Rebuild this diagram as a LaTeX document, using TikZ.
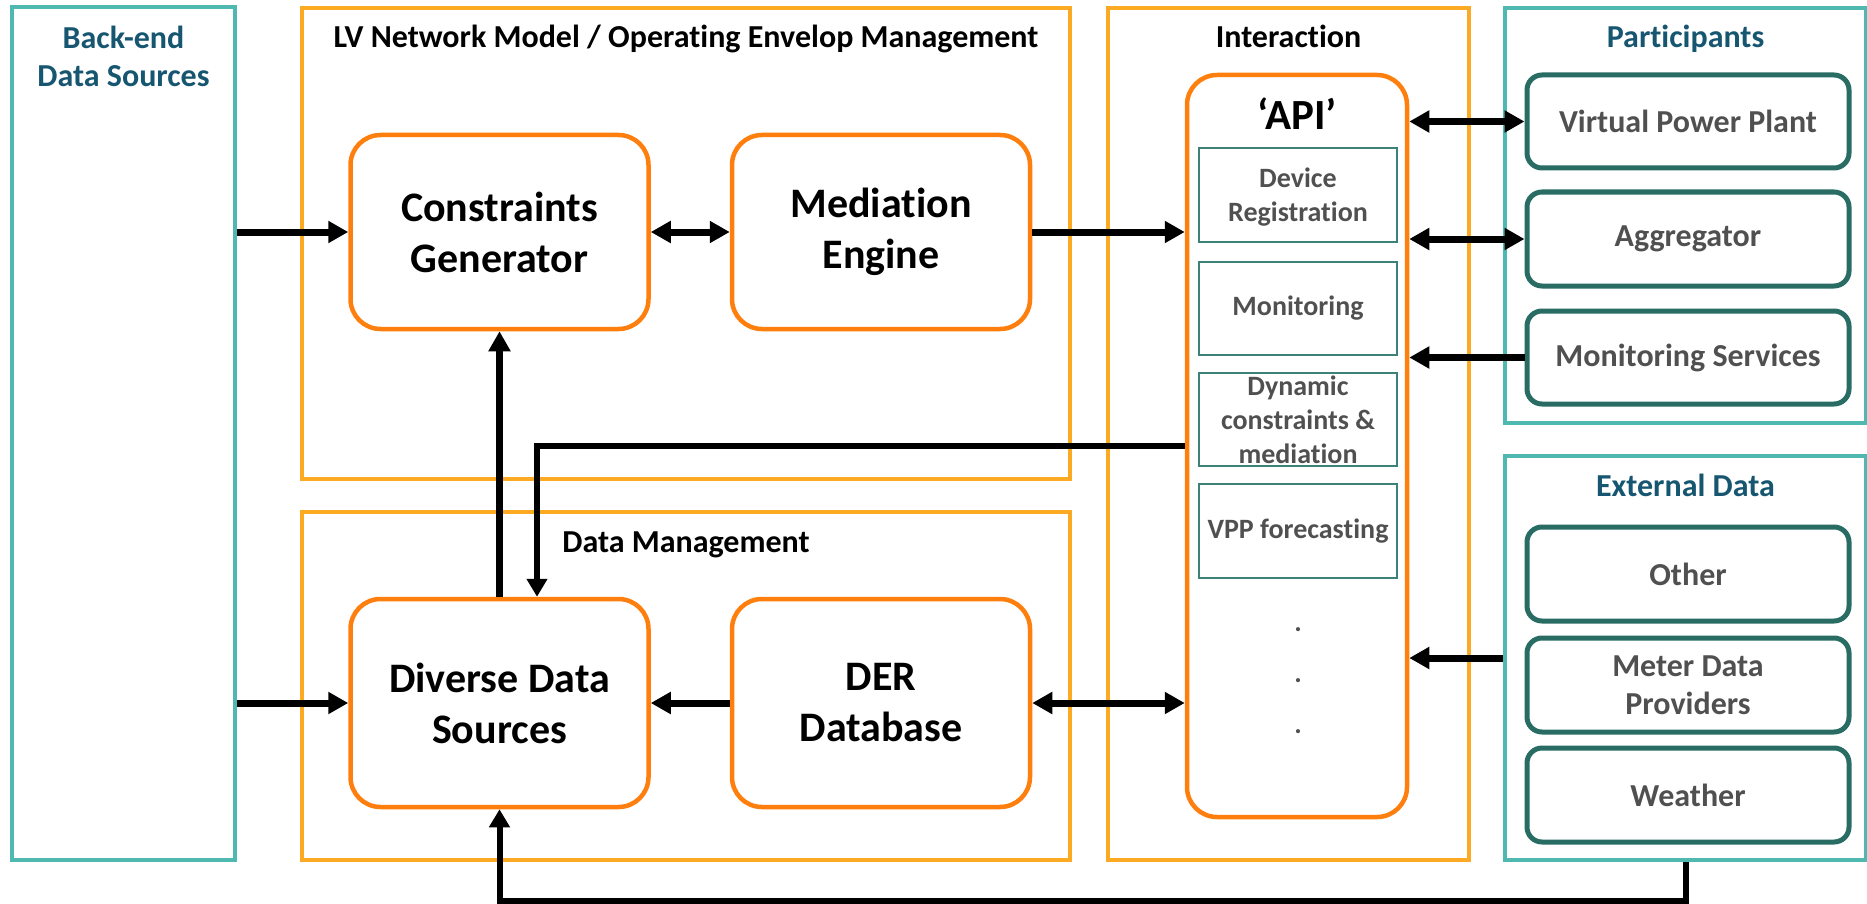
\documentclass[tikz,border=0pt]{standalone}
\usepackage{fontspec}
\setmainfont{Carlito}[Ligatures={NoCommon,TeX}]
\usetikzlibrary{arrows.meta}

\definecolor{boxorange}{RGB}{252,170,36}
\definecolor{nodeorange}{RGB}{255,127,14}
\definecolor{boxteal}{RGB}{78,184,177}
\definecolor{darkteal}{RGB}{40,108,100}
\definecolor{titleblue}{RGB}{22,86,112}
\definecolor{textgray}{RGB}{80,80,80}
\definecolor{slotteal}{RGB}{60,130,120}

\begin{document}
\begin{tikzpicture}[x=1pt,y=-1pt,
  groupO/.style={draw=boxorange,line width=4pt,inner sep=0pt},
  groupT/.style={draw=boxteal,line width=4pt,inner sep=0pt},
  titleblk/.style={font=\fontsize{32}{38}\selectfont\bfseries,text=black,anchor=base,inner sep=0pt},
  titletl/.style={titleblk,text=titleblue},
  block/.style={draw=nodeorange,line width=4.5pt,rounded corners=30pt,minimum width=298pt,
    align=center,font=\fontsize{42}{51}\selectfont\bfseries,inner sep=0pt},
  apibox/.style={draw=nodeorange,line width=4.5pt,rounded corners=30pt,
    minimum width=220pt,minimum height=742pt,inner sep=0pt},
  slot/.style={draw=slotteal,line width=2pt,minimum width=198pt,align=center,text=textgray,
    font=\fontsize{28}{34}\selectfont\bfseries,inner sep=0pt},
  party/.style={draw=darkteal,line width=5pt,rounded corners=15pt,minimum width=322pt,
    align=center,text=textgray,font=\fontsize{32}{38}\selectfont\bfseries,inner sep=0pt},
  flowarrow/.style={line width=7pt,-{Triangle[length=20pt,width=21pt]}},
  biflow/.style={line width=7pt,{Triangle[length=20pt,width=21pt]}-{Triangle[length=20pt,width=21pt]}},
  feedback/.style={line width=6pt,-{Triangle[length=18pt,width=20pt]}},
  dotmark/.style={text=textgray,font=\fontsize{28}{33}\selectfont\bfseries,inner sep=0pt},
]
\useasboundingbox (0,0) rectangle (1867,904);

% group frames
\node[groupT,minimum width=223pt,minimum height=853pt] (backend) at (123.5,433.5) {};
\node[groupO,minimum width=768pt,minimum height=471pt] (lvnet) at (686,243.5) {};
\node[groupO,minimum width=768pt,minimum height=348pt] (datamgmt) at (686,686) {};
\node[groupO,minimum width=361pt,minimum height=852pt] (interaction) at (1288.5,434) {};
\node[groupT,minimum width=361pt,minimum height=415pt] (participants) at (1685.5,215.5) {};
\node[groupT,minimum width=361pt,minimum height=404pt] (ext) at (1685.5,658) {};

% group titles
\node[titletl,anchor=center,align=center] (backendtitle) at (123.5,56) {Back-end\\Data Sources};
\node[titleblk] (lvtitle) at (686,48) {LV Network Model / Operating Envelop Management};
\node[titleblk] (dmtitle) at (686,552) {Data Management};
\node[titleblk] (inttitle) at (1288.5,48) {Interaction};
\node[titletl] (parttitle) at (1685.5,48) {Participants};
\node[titletl] (exttitle) at (1685.5,496) {External Data};

% core blocks
\node[block,minimum height=194pt] (cg) at (499.5,232) {Constraints\\Generator};
\node[block,minimum height=194pt] (me) at (881,232) {Mediation\\Engine};
\node[block,minimum height=208pt] (dds) at (499.5,703) {Diverse Data\\Sources};
\node[block,minimum height=208pt] (der) at (881,703) {DER\\Database};

% API column
\node[apibox] (api) at (1297,446) {};
\node[font=\fontsize{43}{50}\selectfont\bfseries,anchor=base,inner sep=0pt] (apititle) at (1297,130) {‘API’};
\node[slot,minimum height=94pt] (devreg) at (1298,195) {\parbox{190pt}{\centering\vspace*{5pt}Device\\Registration}};
\node[slot,minimum height=93pt] (monit) at (1298,308.5) {Monitoring};
\node[slot,minimum height=93pt] (dyncon) at (1298,419.5) {Dynamic\\constraints \&\\mediation};
\node[slot,minimum height=94pt] (vppfc) at (1298,531) {VPP forecasting};
\node[dotmark] (dot1) at (1298,630) {.};
\node[dotmark] (dot2) at (1298,681) {.};
\node[dotmark] (dot3) at (1298,732) {.};

% participants
\node[party,minimum height=93pt] (vpp) at (1688,121.5) {Virtual Power Plant};
\node[party,minimum height=94pt] (agg) at (1688,239) {Aggregator};
\node[party,minimum height=93pt] (monsvc) at (1688,357.5) {Monitoring Services};

% external data
\node[party,minimum height=94pt] (other) at (1688,574) {Other};
\node[party,minimum height=94pt] (meter) at (1688,685) {Meter Data\\Providers};
\node[party,minimum height=94pt] (weather) at (1688,795) {Weather};

% helper levels for routed connectors
\coordinate (fbrow) at (0,446);
\coordinate (fbcol) at (537,0);
\coordinate (extrow) at (0,658);
\coordinate (bottomrow) at (0,901);

% connectors
\draw[flowarrow] (backend.east |- cg.west) -- (cg.west);
\draw[biflow] (cg.east) -- (me.west);
\draw[flowarrow] (me.east) -- (api.west |- me.east);
\draw[biflow] (api.east |- vpp.west) -- (vpp.west);
\draw[biflow] (api.east |- agg.west) -- (agg.west);
\draw[flowarrow] (monsvc.west) -- (api.east |- monsvc.west);
\draw[flowarrow] (dds.north) -- (cg.south);
\draw[feedback] (api.west |- fbrow) -| (fbcol |- dds.north);
\draw[flowarrow] (backend.east |- dds.west) -- (dds.west);
\draw[flowarrow] (der.west) -- (dds.east);
\draw[biflow] (der.east) -- (api.west |- der.east);
\draw[flowarrow] (ext.west |- extrow) -- (api.east |- extrow);
\draw[feedback] (ext.south) -- (ext.south |- bottomrow) -| (dds.south);
\end{tikzpicture}
\end{document}
